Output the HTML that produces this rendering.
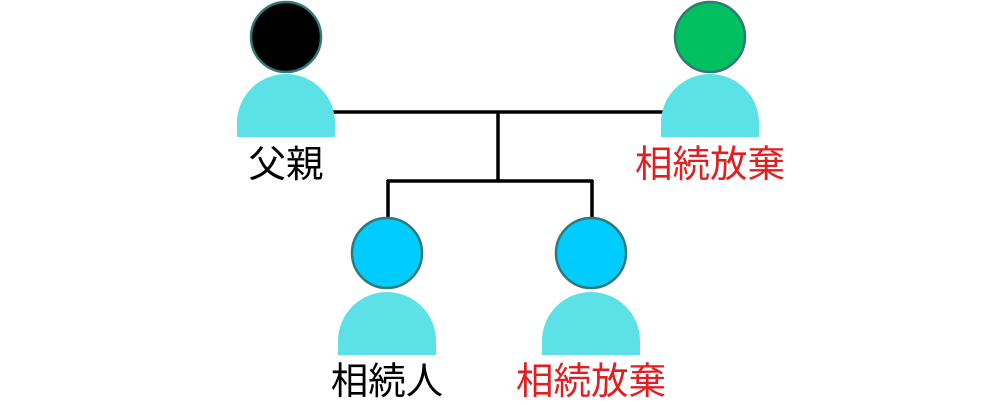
<!DOCTYPE html>
<html><head><meta charset="utf-8"><style>
body{margin:0;background:#fff;width:996px;height:400px;overflow:hidden}
text{font-family:"Liberation Sans","Noto Sans CJK JP",sans-serif;font-size:37.5px;text-anchor:middle}
</style></head><body>
<svg width="996" height="400" viewBox="0 0 996 400">
<g stroke="#000" stroke-width="3.5" fill="none">
<line x1="330" y1="112" x2="665" y2="112"/>
<line x1="498" y1="112" x2="498" y2="181"/>
<line x1="387" y1="181" x2="593" y2="181"/>
<line x1="388" y1="180" x2="388" y2="220"/>
<line x1="592" y1="180" x2="592" y2="220"/>
</g>
<g fill="#5ce1e6">
<path d="M237 137 V123 A49 49 0 0 1 335 123 V137 Z"/>
<path d="M661 137 V123 A49 49 0 0 1 759 123 V137 Z"/>
<path d="M338 355 V341 A49 49 0 0 1 436 341 V355 Z"/>
<path d="M542 355 V341 A49 49 0 0 1 640 341 V355 Z"/>
</g>
<g stroke="#2e7a78" stroke-width="2.5">
<circle cx="286" cy="37" r="35" fill="#000"/>
<circle cx="710" cy="37" r="35" fill="#00c060"/>
<circle cx="387" cy="253" r="35" fill="#00ccff"/>
<circle cx="591" cy="253" r="35" fill="#00ccff"/>
</g>
<text x="286" y="177" fill="#000">父親</text>
<text x="710" y="177" fill="#e02020">相続放棄</text>
<text x="387" y="394" fill="#000">相続人</text>
<text x="591" y="394" fill="#e02020">相続放棄</text>
</svg>
</body></html>
